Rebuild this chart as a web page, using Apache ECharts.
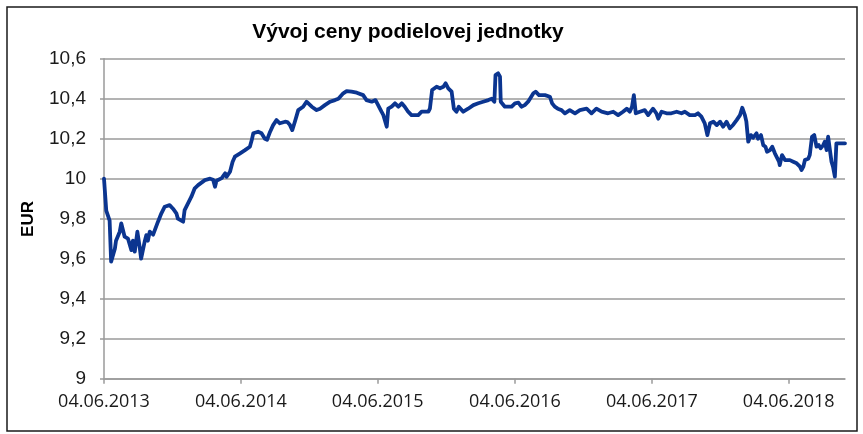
<!DOCTYPE html>
<html>
<head>
<meta charset="utf-8">
<script src="https://cdn.jsdelivr.net/npm/echarts@6/dist/echarts.min.js"></script>
<style>
html, body { margin: 0; padding: 0; background: #fff; }
#chart { width: 863px; height: 434px; }
</style>
</head>
<body>
<div id="chart"></div>
<script>
// fund unit price
var dates = [
    '2013-06-04','2013-06-10','2013-06-19','2013-06-23','2013-07-03','2013-07-06','2013-07-16','2013-07-20','2013-07-29','2013-08-07',
    '2013-08-16','2013-08-20','2013-08-25','2013-09-01','2013-09-07','2013-09-11','2013-09-21','2013-09-25','2013-09-29','2013-10-04',
    '2013-10-13','2013-10-26','2013-11-04','2013-11-13','2013-11-26','2013-12-05','2013-12-14','2013-12-18','2014-01-01','2014-01-05',
    '2014-01-14','2014-01-23','2014-02-01','2014-02-10','2014-02-28','2014-03-14','2014-03-22','2014-03-27','2014-03-31','2014-04-14',
    '2014-04-23','2014-04-27','2014-05-06','2014-05-13','2014-05-19','2014-06-02','2014-06-15','2014-06-28','2014-07-03','2014-07-07',
    '2014-07-20','2014-07-29','2014-08-07','2014-08-13','2014-08-21','2014-08-29','2014-09-07','2014-09-16','2014-09-30','2014-10-06',
    '2014-10-13','2014-10-19','2014-10-26','2014-11-04','2014-11-17','2014-11-26','2014-12-01','2014-12-10','2014-12-23','2015-01-01',
    '2015-01-14','2015-01-28','2015-02-10','2015-02-19','2015-03-04','2015-03-13','2015-03-26','2015-04-09','2015-04-26','2015-05-05',
    '2015-05-19','2015-05-29','2015-06-05','2015-06-14','2015-06-19','2015-06-28','2015-07-02','2015-07-11','2015-07-20','2015-07-29',
    '2015-08-07','2015-08-15','2015-08-24','2015-09-02','2015-09-20','2015-09-29','2015-10-17','2015-10-21','2015-10-27','2015-11-08',
    '2015-11-17','2015-11-26','2015-12-02','2015-12-09','2015-12-18','2015-12-24','2015-12-31','2016-01-06','2016-01-18','2016-01-31',
    '2016-02-14','2016-02-27','2016-03-11','2016-03-25','2016-04-03','2016-04-10','2016-04-13','2016-04-20','2016-04-25','2016-04-27',
    '2016-05-08','2016-05-26','2016-06-04','2016-06-13','2016-06-21','2016-06-30','2016-07-09','2016-07-14','2016-07-23','2016-07-29',
    '2016-08-07','2016-08-23','2016-09-05','2016-09-11','2016-09-18','2016-09-26','2016-10-06','2016-10-15','2016-10-28','2016-11-11',
    '2016-11-24','2016-12-12','2016-12-25','2017-01-07','2017-01-21','2017-02-07','2017-02-21','2017-03-06','2017-03-19','2017-03-29',
    '2017-04-06','2017-04-12','2017-04-17','2017-04-22','2017-05-03','2017-05-16','2017-05-25','2017-06-07','2017-06-16','2017-06-21',
    '2017-06-30','2017-07-13','2017-07-26','2017-08-09','2017-08-22','2017-08-31','2017-09-13','2017-09-27','2017-10-05','2017-10-14',
    '2017-10-23','2017-10-30','2017-11-06','2017-11-15','2017-11-24','2017-12-03','2017-12-11','2017-12-20','2017-12-29','2018-01-07',
    '2018-01-16','2018-01-25','2018-01-31','2018-02-07','2018-02-11','2018-02-16','2018-02-23','2018-03-01','2018-03-10','2018-03-14',
    '2018-03-22','2018-03-28','2018-04-03','2018-04-07','2018-04-15','2018-04-21','2018-04-28','2018-05-02','2018-05-09','2018-05-11',
    '2018-05-17','2018-05-25','2018-05-29','2018-06-07','2018-06-16','2018-06-25','2018-07-04','2018-07-08','2018-07-13','2018-07-17',
    '2018-07-26','2018-07-30','2018-08-05','2018-08-11','2018-08-17','2018-08-23','2018-08-28','2018-09-04','2018-09-08','2018-09-13',
    '2018-09-17','2018-09-22','2018-09-26','2018-09-30','2018-10-05','2018-10-09','2018-10-20','2018-11-01'
];
var prices = [
    10.00, 9.84, 9.79, 9.585, 9.65, 9.69, 9.735, 9.777, 9.71, 9.70,
    9.643, 9.69, 9.635, 9.735, 9.66, 9.60, 9.69, 9.718, 9.69, 9.735,
    9.72, 9.785, 9.827, 9.86, 9.868, 9.85, 9.827, 9.80, 9.785, 9.843,
    9.877, 9.91, 9.952, 9.968, 9.993, 10.00, 9.995, 9.96, 9.99, 10.003,
    10.027, 10.01, 10.035, 10.085, 10.11, 10.127, 10.143, 10.16, 10.193, 10.227,
    10.235, 10.227, 10.20, 10.195, 10.235, 10.268, 10.293, 10.277, 10.285, 10.283,
    10.268, 10.243, 10.285, 10.343, 10.36, 10.385, 10.393, 10.36, 10.343, 10.35,
    10.368, 10.385, 10.393, 10.40, 10.427, 10.438, 10.435, 10.43, 10.418, 10.393,
    10.385, 10.393, 10.368, 10.335, 10.318, 10.26, 10.35, 10.36, 10.377, 10.36,
    10.377, 10.36, 10.335, 10.318, 10.318, 10.335, 10.335, 10.35, 10.443, 10.46,
    10.452, 10.46, 10.477, 10.452, 10.435, 10.35, 10.335, 10.36, 10.335, 10.35,
    10.368, 10.377, 10.385, 10.393, 10.40, 10.385, 10.518, 10.527, 10.51, 10.385,
    10.36, 10.36, 10.377, 10.38, 10.36, 10.368, 10.385, 10.40, 10.427, 10.435,
    10.418, 10.418, 10.41, 10.377, 10.36, 10.35, 10.343, 10.327, 10.343, 10.327,
    10.343, 10.35, 10.327, 10.35, 10.335, 10.327, 10.335, 10.318, 10.335, 10.35,
    10.335, 10.36, 10.418, 10.327, 10.335, 10.343, 10.318, 10.35, 10.327, 10.30,
    10.335, 10.327, 10.327, 10.335, 10.327, 10.335, 10.318, 10.318, 10.327, 10.31,
    10.277, 10.218, 10.277, 10.285, 10.268, 10.285, 10.26, 10.285, 10.252, 10.27,
    10.293, 10.318, 10.355, 10.318, 10.285, 10.185, 10.218, 10.205, 10.227, 10.20,
    10.218, 10.168, 10.16, 10.135, 10.143, 10.16, 10.127, 10.12, 10.085, 10.068,
    10.118, 10.093, 10.085, 10.093, 10.085, 10.077, 10.06, 10.043, 10.06, 10.093,
    10.10, 10.118, 10.21, 10.218, 10.16, 10.168, 10.152, 10.168, 10.185, 10.143,
    10.21, 10.205, 10.085, 10.06, 10.01, 10.177, 10.177, 10.177
];
var tickDates = ['2013-06-04', '2014-06-04', '2015-06-04', '2016-06-04', '2017-06-04', '2018-06-04'];
var axisStart = '2013-06-04';
var axisEnd = '2018-11-01';

function toTime(s) {
    var p = s.split('-');
    return new Date(+p[0], +p[1] - 1, +p[2]).getTime();
}
function pad(n) {
    return n < 10 ? '0' + n : '' + n;
}

var tickTimes = tickDates.map(toTime);
var seriesData = dates.map(function (d, i) {
    return [toTime(d), prices[i]];
});

var chart = echarts.init(document.getElementById('chart'));
chart.setOption({
    animation: false,
    title: {
        text: 'Vývoj ceny podielovej jednotky',
        left: 408,
        top: 22,
        padding: 0,
        textAlign: 'center',
        textStyle: {fontFamily: 'Liberation Sans', fontWeight: 'bold', fontSize: 21, color: '#000'}
    },
    grid: {left: 104, right: 18, top: 58.7, bottom: 55.3},
    graphic: [
        {
            type: 'rect',
            shape: {x: 7, y: 7, width: 850, height: 424},
            style: {fill: 'none', stroke: '#1a1a1a', lineWidth: 1.5},
            silent: true
        },
        {
            type: 'text',
            x: 28,
            y: 219,
            rotation: Math.PI / 2,
            style: {
                text: 'EUR',
                fontFamily: 'Liberation Sans',
                fontWeight: 'bold',
                fontSize: 17,
                fill: '#000',
                align: 'center',
                verticalAlign: 'middle'
            }
        }
    ],
    xAxis: {
        // dates as plain numbers so the yearly ticks can sit on 4 June
        type: 'value',
        min: toTime(axisStart),
        max: toTime(axisEnd),
        axisLine: {lineStyle: {color: '#9a9a9a', width: 1.5}},
        axisTick: {show: true, length: 5, customValues: tickTimes, lineStyle: {color: '#9a9a9a', width: 1.5}},
        axisLabel: {
            customValues: tickTimes,
            margin: 14,
            fontFamily: 'Open Sans',
            fontSize: 18,
            color: '#1a1a1a',
            formatter: function (v) {
                var d = new Date(v);
                return pad(d.getDate()) + '.' + pad(d.getMonth() + 1) + '.' + d.getFullYear();
            }
        },
        splitLine: {show: false}
    },
    yAxis: {
        type: 'value',
        min: 9,
        max: 10.6,
        interval: 0.2,
        axisLine: {show: true, lineStyle: {color: '#9a9a9a', width: 1.5}},
        axisTick: {show: true, length: 4, lineStyle: {color: '#9a9a9a', width: 1.5}},
        axisLabel: {
            margin: 18,
            fontFamily: 'Liberation Sans',
            fontSize: 19,
            color: '#1a1a1a',
            formatter: function (v) {
                return String(Math.round(v * 10) / 10).replace('.', ',');
            }
        },
        splitLine: {lineStyle: {color: '#9a9a9a', width: 1.5}}
    },
    series: [{
        type: 'line',
        data: seriesData,
        showSymbol: false,
        lineStyle: {color: '#0b3590', width: 3.8, join: 'round', cap: 'round'}
    }]
});
</script>
</body>
</html>
